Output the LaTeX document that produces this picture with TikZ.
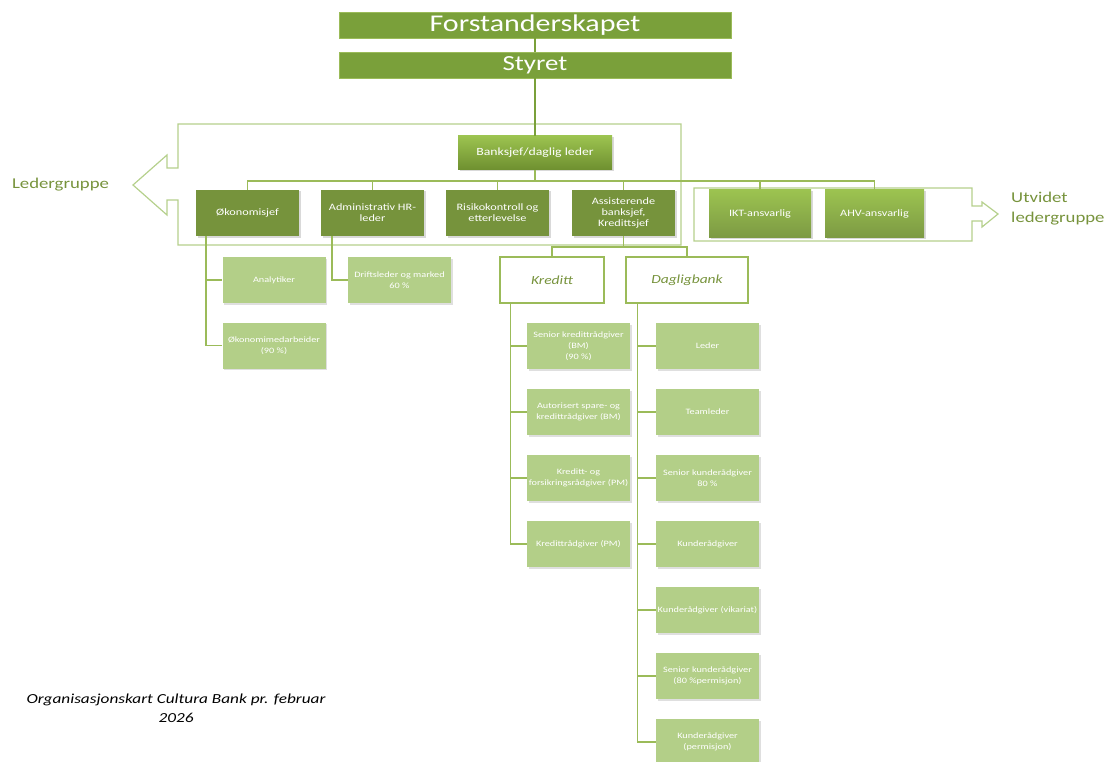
\documentclass[tikz,border=0pt]{standalone}
\usepackage{fontspec}
\setmainfont{Carlito}[FakeStretch=1.25]
\usepackage{tikz}
\usetikzlibrary{positioning, shadows}
\definecolor{boardgreen}{HTML}{7AA03A}
\definecolor{leadgreen}{HTML}{76933C}
\definecolor{topgreen}{HTML}{9CC350}
\definecolor{bottomgreen}{HTML}{6E8F2F}
\definecolor{staffgreen}{HTML}{B3CF88}
\definecolor{linegreen}{HTML}{9BBB59}
\definecolor{framegreen}{HTML}{B5D08C}
\definecolor{textgreen}{HTML}{77933C}
\tikzset{
    boardnode/.style = {draw=linegreen, fill=boardgreen, rectangle, text=white, inner sep=0pt,
      minimum width=392pt, minimum height=26pt, node distance=0em},
    chiefnode/.style = {rectangle, top color=topgreen, bottom color=bottomgreen, text=white, inner sep=0pt,
      minimum width=154pt, minimum height=34pt, font=\fontsize{11}{13}\selectfont,
      drop shadow={shadow xshift=1.5pt, shadow yshift=-1.5pt, opacity=0.3}},
    leadnode/.style = {rectangle, fill=leadgreen, text=white, inner sep=0pt, align=center,
      minimum width=103pt, minimum height=46pt, node distance=0em, font=\fontsize{9.8}{11}\selectfont,
      drop shadow={shadow xshift=1.5pt, shadow yshift=-1.5pt, opacity=0.3}},
    extnode/.style = {rectangle, top color=topgreen, bottom color=bottomgreen!90!white, text=white, inner sep=0pt,
      minimum height=47pt, node distance=0em, font=\fontsize{9.8}{11}\selectfont,
      drop shadow={shadow xshift=1.5pt, shadow yshift=-1.5pt, opacity=0.3}},
    unitnode/.style = {draw=linegreen, line width=1.5pt, fill=white, rectangle, text=textgreen, inner sep=0pt,
      minimum height=46pt, font=\itshape\fontsize{12.4}{14}\selectfont},
    staffnode/.style = {rectangle, fill=staffgreen, text=white, inner sep=0pt, align=center,
      minimum width=103pt, minimum height=46pt, node distance=0em, font=\fontsize{8.2}{11}\selectfont,
      drop shadow={shadow xshift=1.5pt, shadow yshift=-1.5pt, opacity=0.25}},
    textnode/.style = {draw=none, fill=none, rectangle, inner sep=0pt},
    connect/.style = {draw=linegreen, line width=1.5pt},
    outline/.style = {draw=framegreen, line width=1.2pt}
}

\begin{document}
\begin{tikzpicture}[x=1pt, y=-1pt]
    \useasboundingbox (0,0) rectangle (1113,762);
    % group frames
    \draw [outline] (178,124) -- (681,124) -- (681,245) -- (178,245) -- (178,200) -- (167,200) -- (167,215)
      -- (133,185) -- (167,155) -- (167,168) -- (178,168) -- cycle;
    \draw [outline] (694,188) -- (972,188) -- (972,206) -- (982,206) -- (982,202) -- (998,214)
      -- (982,227) -- (982,221) -- (972,221) -- (972,241) -- (694,241) -- cycle;
    \node [textnode, name=Ledergruppe, text=textgreen, font=\fontsize{15}{18}\selectfont] at (60.5,185) {Ledergruppe};
    \node [textnode, name=Utvidet, anchor=west, align=left, text=textgreen, font=\fontsize{15}{20}\selectfont]
      at (1011,209) {Utvidet\\ledergruppe};

    \node [boardnode, name=Forstanderskapet, font=\fontsize{24}{26}\selectfont] at (535,25) {Forstanderskapet};
    \node [boardnode, name=Styret, below of=Forstanderskapet, yshift=-40pt, font=\fontsize{21.5}{24}\selectfont] {Styret};
    \node [chiefnode, name=Banksjef] at (535,153) {Banksjef/daglig leder};
    \draw [connect, draw=boardgreen] (Forstanderskapet) -- (Styret);
    \draw [connect, draw=boardgreen] (Styret) -- (Banksjef);

    \node [leadnode, name=Okonomisjef] at (247.5,213) {Økonomisjef};
    \node [leadnode, name=AdminHR, right of=Okonomisjef, xshift=125pt] {Administrativ HR-\\leder};
    \node [leadnode, name=Risiko, right of=AdminHR, xshift=125pt] {Risikokontroll og\\etterlevelse};
    \node [leadnode, name=Assisterende, right of=Risiko, xshift=126pt] {Assisterende\\banksjef,\\Kredittsjef};
    \node [extnode, name=IKT, minimum width=102pt] at (760,213.5) {IKT-ansvarlig};
    \node [extnode, name=AHV, minimum width=99pt] at (874.5,213.5) {AHV-ansvarlig};
    \coordinate (Bus) at (535,181);
    \draw [connect] (Banksjef) -- (Bus);
    \foreach \n in {Okonomisjef, AdminHR, Risiko, Assisterende, IKT, AHV}
      \draw [connect] (Bus) -| (\n.north);

    \node [staffnode, name=Analytiker] at (274,280) {Analytiker};
    \node [staffnode, name=OkMed, below of=Analytiker, yshift=-65.5pt] {Økonomimedarbeider\\(90 \%)};
    \node [staffnode, name=Drift, right of=Analytiker, xshift=125.5pt] {Driftsleder og marked\\60 \%};
    \draw [connect] ([xshift=10pt]Okonomisjef.south west) |- (Analytiker);
    \draw [connect] ([xshift=10pt]Okonomisjef.south west) |- (OkMed);
    \draw [connect] ([xshift=11pt]AdminHR.south west) |- (Drift);

    \node [unitnode, name=Kreditt, minimum width=104pt] at (552,280) {Kreditt};
    \node [unitnode, name=Dagligbank, minimum width=122pt] at (687,280) {Dagligbank};
    \draw [connect] (Assisterende.south) -- ++(0,11) -| (Kreditt.north);
    \draw [connect] (Assisterende.south) -- ++(0,11) -| (Dagligbank.north);

    \node [staffnode, name=SeniorKreditt] at (578.5,346) {Senior kredittrådgiver\\(BM)\\(90 \%)};
    \node [staffnode, name=Autorisert, below of=SeniorKreditt, yshift=-66pt] {Autorisert spare- og\\kredittrådgiver (BM)};
    \node [staffnode, name=Forsikring, below of=Autorisert, yshift=-66pt] {Kreditt- og\\forsikringsrådgiver (PM)};
    \node [staffnode, name=KredittPM, below of=Forsikring, yshift=-66pt] {Kredittrådgiver (PM)};
    \foreach \n in {SeniorKreditt, Autorisert, Forsikring, KredittPM}
      \draw [connect] ([xshift=11pt]Kreditt.south west) |- (\n);

    \node [staffnode, name=Leder] at (707.5,346) {Leder};
    \node [staffnode, name=Teamleder, below of=Leder, yshift=-66pt] {Teamleder};
    \node [staffnode, name=SeniorKunde, below of=Teamleder, yshift=-66pt] {Senior kunderådgiver\\80 \%};
    \node [staffnode, name=Kunde, below of=SeniorKunde, yshift=-66pt] {Kunderådgiver};
    \node [staffnode, name=Vikariat, below of=Kunde, yshift=-66pt] {Kunderådgiver (vikariat)};
    \node [staffnode, name=SeniorPerm, below of=Vikariat, yshift=-66pt] {Senior kunderådgiver\\(80 \%permisjon)};
    \node [staffnode, name=KundePerm, below of=SeniorPerm, yshift=-66pt] {Kunderådgiver\\(permisjon)};
    \foreach \n in {Leder, Teamleder, SeniorKunde, Kunde, Vikariat, SeniorPerm, KundePerm}
      \draw [connect] ([xshift=12pt]Dagligbank.south west) |- (\n);

    \node [textnode, name=Caption, align=center, font=\itshape\fontsize{13.8}{19}\selectfont] at (176,708)
      {Organisasjonskart Cultura Bank pr. februar\\2026};
\end{tikzpicture}
\end{document}
